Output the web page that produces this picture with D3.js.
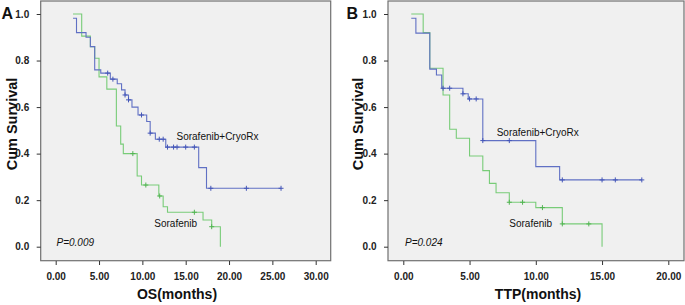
<!DOCTYPE html>
<html>
<head>
<meta charset="utf-8">
<script src="https://cdn.jsdelivr.net/npm/d3@7"></script>
<style>
body{margin:0;background:#fff;}
text{font-family:Arial,"Liberation Sans",sans-serif;}
</style>
</head>
<body>
<script>
// Kaplan-Meier step points [months, survival], censor times
const osCryo = [[2.0,0.982],[2.4,0.92],[3.5,0.90],[4.0,0.86],[4.5,0.76],[5.2,0.746],[6.3,0.72],[7.1,0.70],[7.6,0.674],[8.0,0.652],[8.4,0.631],[8.8,0.60],[9.5,0.566],[10.5,0.538],[10.9,0.488],[11.5,0.462],[12.7,0.428],[16.5,0.34],[17.4,0.251],[26.0,0.251]];
const osCryoCensor = [[6.0,0.746],[6.6,0.72],[8.0,0.652],[8.4,0.631],[9.9,0.566],[10.9,0.488],[11.95,0.462],[12.4,0.462],[12.9,0.428],[13.6,0.428],[14.0,0.428],[15.0,0.428],[16.0,0.428],[17.9,0.251],[22.0,0.251],[26.0,0.251]];
const osSora = [[2.0,1.0],[3.0,0.905],[4.0,0.86],[4.5,0.81],[5.0,0.73],[5.9,0.677],[7.0,0.519],[7.5,0.441],[7.8,0.40],[9.4,0.304],[9.9,0.265],[11.9,0.218],[12.4,0.172],[12.9,0.148],[17.0,0.115],[18.0,0.086],[19.0,0.0]];
const osSoraCensor = [[8.9,0.40],[10.4,0.265],[12.0,0.218],[16.0,0.148],[18.0,0.086]];

const ttpCryo = [[0.6,0.982],[0.95,0.918],[2.0,0.763],[2.5,0.738],[2.9,0.681],[4.5,0.657],[4.9,0.635],[6.0,0.456],[10.0,0.344],[11.8,0.287],[18.0,0.287]];
const ttpCryoCensor = [[3.0,0.681],[3.5,0.681],[4.5,0.657],[5.0,0.635],[5.5,0.635],[6.0,0.456],[8.0,0.456],[12.0,0.287],[15.0,0.287],[16.0,0.287],[18.0,0.287]];
const ttpSora = [[0.6,1.0],[1.5,0.92],[2.0,0.767],[3.0,0.652],[3.5,0.505],[4.0,0.466],[5.0,0.39],[6.0,0.327],[6.5,0.272],[7.0,0.232],[8.0,0.191],[10.0,0.168],[12.0,0.098],[15.0,0.0]];
const ttpSoraCensor = [[8.0,0.191],[9.0,0.191],[10.5,0.168],[12.0,0.098],[14.0,0.098]];

const yTicks = [0,0.2,0.4,0.6,0.8,1.0];
const osTicks = [0,5,10,15,20,25,30];
const ttpTicks = [0,5,10,15,20];

const green="#78cc78", blue="#6070c4", blueDark="#4456b8";

const svg = d3.select("body").append("svg").attr("width",685).attr("height",305);

function panel(o){
  const g = svg.append("g");
  const x = d3.scaleLinear().domain(o.xdom).range(o.xr);
  const y = d3.scaleLinear().domain([0,1]).range([246.7,14]);

  g.append("rect").attr("x",o.box[0]).attr("y",1).attr("width",o.box[1]-o.box[0]).attr("height",259.7)
    .attr("fill","#f0f0f0").attr("stroke","#707070").attr("stroke-width",1.2);

  const xa = g.append("g").attr("transform","translate(0,261)")
    .call(d3.axisBottom(x).tickValues(o.ticks).tickSize(4).tickSizeOuter(0).tickFormat(d3.format(".2f")));
  xa.select(".domain").remove();
  xa.selectAll("text").attr("font-size",10).attr("font-weight","bold").attr("fill","#222").attr("dy","1.2em");
  xa.selectAll("line").attr("stroke","#333");

  const ya = g.append("g").attr("transform","translate("+o.box[0]+",0)")
    .call(d3.axisLeft(y).tickValues(yTicks).tickSize(4).tickFormat(d3.format(".1f")));
  ya.select(".domain").remove();
  ya.selectAll("text").attr("font-size",10).attr("font-weight","bold").attr("fill","#222").attr("dx","-0.45em");
  ya.selectAll("line").attr("stroke","#333");

  const line = d3.line().x(d=>x(d[0])).y(d=>y(d[1])).curve(d3.curveStepAfter);
  [[o.sora,green],[o.cryo,blue]].forEach(function(s){
    g.append("path").datum(s[0]).attr("d",line).attr("fill","none").attr("stroke",s[1]).attr("stroke-width",1.1);
  });
  [[o.soraC,"#52b452"],[o.cryoC,blueDark]].forEach(function(s){
    g.selectAll(null).data(s[0]).enter().append("path")
      .attr("d",d=>"M"+(x(d[0])-2.5)+","+y(d[1])+"h5M"+x(d[0])+","+(y(d[1])-2.5)+"v5")
      .attr("stroke",s[1]).attr("stroke-width",1);
  });

  g.append("text").attr("x",o.cryoLab[0]).attr("y",o.cryoLab[1]).attr("font-size",10).attr("fill","#111").text("Sorafenib+CryoRx");
  g.append("text").attr("x",o.soraLab[0]).attr("y",o.soraLab[1]).attr("font-size",10).attr("fill","#111").text("Sorafenib");
  g.append("text").attr("x",o.pLab[0]).attr("y",246).attr("font-size",10).attr("font-style","italic").attr("fill","#111").text(o.p);

  g.append("text").attr("x",o.title[0]).attr("y",299).attr("text-anchor","middle").attr("font-size",14)
    .attr("font-weight","bold").attr("fill","#111").text(o.title[1]);
  g.append("text").attr("transform","translate("+o.ylabX+",124) rotate(-90)").attr("text-anchor","middle")
    .attr("font-size",14.5).attr("font-weight","bold").attr("fill","#111").text("Cum Survival");
  g.append("text").attr("x",o.letterX).attr("y",18.5).attr("font-size",16).attr("font-weight","bold").attr("fill","#111").text(o.letter);
}

panel({xdom:[0,30],xr:[55.7,315.7],box:[40.7,330.7],ticks:osTicks,
  cryo:osCryo,cryoC:osCryoCensor,sora:osSora,soraC:osSoraCensor,
  cryoLab:[176.5,139.5],soraLab:[154.3,227],pLab:[56.5],p:"P=0.009",
  title:[177,"OS(months)"],ylabX:17,letterX:1.5,letter:"A"});

panel({xdom:[0,20],xr:[403.3,668.3],box:[388,684],ticks:ttpTicks,
  cryo:ttpCryo,cryoC:ttpCryoCensor,sora:ttpSora,soraC:ttpSoraCensor,
  cryoLab:[496.7,136],soraLab:[509.3,227],pLab:[405],p:"P=0.024",
  title:[538,"TTP(months)"],ylabX:363,letterX:346.5,letter:"B"});
</script>
</body>
</html>
